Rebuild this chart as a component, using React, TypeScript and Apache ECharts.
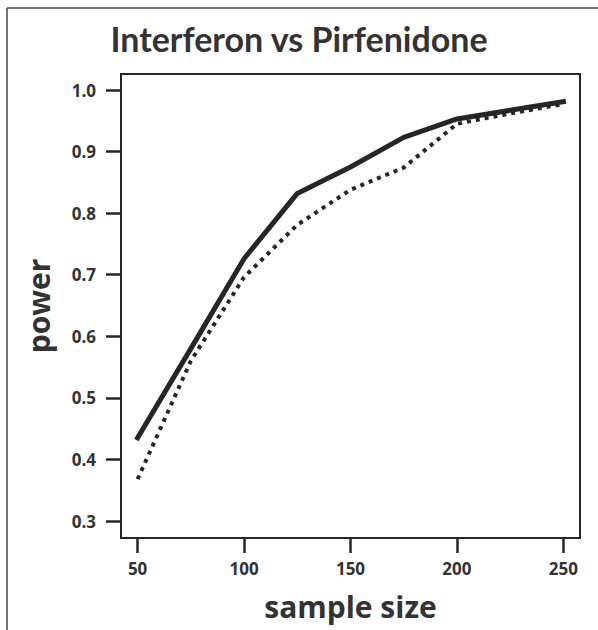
import React, { useEffect, useRef } from "react";
import * as echarts from "echarts";

const titleText = "Interferon vs Pirfenidone";
const xName = "sample size";
const yName = "power";
const sampleSizes = [50, 75, 100, 125, 150, 175, 200, 225, 250];
const solidPower = [0.435, 0.58, 0.726, 0.832, 0.875, 0.923, 0.953, 0.967, 0.981];
const dottedPower = [0.368, 0.56, 0.696, 0.781, 0.838, 0.874, 0.945, 0.962, 0.977];
const xTicks = [50, 100, 150, 200, 250];
const yTicks = [0.3, 0.4, 0.5, 0.6, 0.7, 0.8, 0.9, 1.0];

const FONT = "'Open Sans', 'DejaVu Sans', sans-serif";
const TFONT = "Lato, 'Open Sans', sans-serif";
const INK = "#262626";
const TXT = "#333333";

export default function App() {
  const ref = useRef<HTMLDivElement>(null);
  useEffect(() => {
    document.body.style.margin = "0";
    const chart = echarts.init(ref.current!, null, { renderer: "svg" });
    const solid = sampleSizes.map((x, i) => [x, solidPower[i]]);
    const dotted = sampleSizes.map((x, i) => [x, dottedPower[i]]);
    chart.setOption({
      animation: false,
      backgroundColor: "#ffffff",
      title: {
        text: titleText,
        left: "center",
        top: 16,
        textStyle: { fontFamily: TFONT, fontWeight: "bold", fontSize: 34, color: TXT },
      },
      grid: {
        left: 121,
        top: 74,
        right: 18,
        bottom: 92,
        show: true,
        borderColor: INK,
        borderWidth: 2,
        backgroundColor: "transparent",
      },
      xAxis: {
        type: "value",
        min: 42.2,
        max: 257.8,
        name: xName,
        nameLocation: "middle",
        nameGap: 53,
        nameTextStyle: { fontFamily: FONT, fontWeight: "bold", fontSize: 30, color: TXT },
        axisLine: { show: true, lineStyle: { color: INK, width: 2 } },
        axisTick: { show: true, inside: false, length: 15, customValues: xTicks, lineStyle: { color: INK, width: 2.5 } },
        axisLabel: {
          customValues: xTicks,
          margin: 22,
          fontFamily: FONT,
          fontWeight: "bold",
          fontSize: 17,
          color: TXT,
        },
        splitLine: { show: false },
      },
      yAxis: {
        type: "value",
        min: 0.2724,
        max: 1.026,
        name: yName,
        nameLocation: "middle",
        nameGap: 68,
        nameRotate: 90,
        nameTextStyle: { fontFamily: FONT, fontWeight: "bold", fontSize: 30, color: TXT },
        axisLine: { show: true, lineStyle: { color: INK, width: 2 } },
        axisTick: { show: true, inside: false, length: 15, customValues: yTicks, lineStyle: { color: INK, width: 2.5 } },
        axisLabel: {
          customValues: yTicks,
          margin: 25,
          formatter: (v: number) => v.toFixed(1),
          fontFamily: FONT,
          fontWeight: "bold",
          fontSize: 17,
          color: TXT,
        },
        splitLine: { show: false },
      },
      series: [
        {
          type: "line",
          data: solid,
          symbol: "none",
          lineStyle: { color: INK, width: 5, cap: "square", join: "round" },
        },
        {
          type: "line",
          data: dotted,
          symbol: "none",
          lineStyle: { color: INK, width: 4, type: [4, 5], cap: "butt" },
        },
      ],
      graphic: [
        { type: "line", shape: { x1: 7, y1: 8, x2: 7, y2: 630 }, style: { stroke: "#444", lineWidth: 1.5 } },
        { type: "line", shape: { x1: 7, y1: 8, x2: 598, y2: 8 }, style: { stroke: "#444", lineWidth: 1.5 } },
      ],
    });
    return () => chart.dispose();
  }, []);
  return <div ref={ref} style={{ width: 598, height: 630 }} />;
}
